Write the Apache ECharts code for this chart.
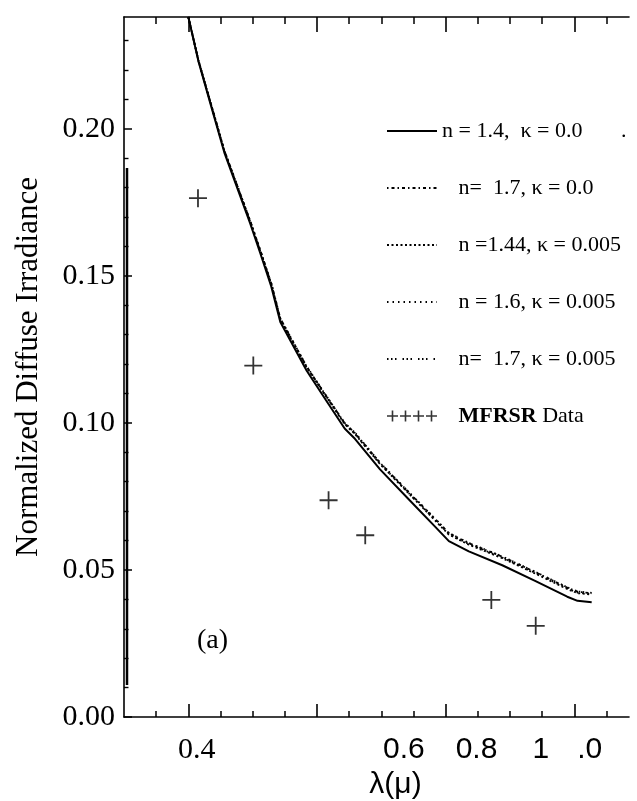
<!DOCTYPE html>
<html><head><meta charset="utf-8">
<script src="https://cdn.jsdelivr.net/npm/echarts@6/dist/echarts.min.js"></script>
<style>html,body{margin:0;padding:0;background:#fff}#c{width:637px;height:801px}</style>
</head><body><div id="c"></div>
<script>
// ---- data ----
const wavelength = [0.400, 0.416, 0.437, 0.456, 0.475, 0.496, 0.512, 0.529, 0.543, 0.584, 0.614, 0.643, 0.659, 0.698, 0.744, 0.785, 0.805, 0.836, 0.888, 0.939, 0.989, 1.005, 1.027];
const n14k0    = [0.2380, 0.2227, 0.2065, 0.1919, 0.1805, 0.1679, 0.1576, 0.1463, 0.1343, 0.1177, 0.1077, 0.0981, 0.0946, 0.0842, 0.0737, 0.0644, 0.0598, 0.0563, 0.0516, 0.0463, 0.0409, 0.0395, 0.0390];
const n17k0    = [0.2380, 0.2231, 0.2071, 0.1926, 0.1813, 0.1688, 0.1586, 0.1474, 0.1355, 0.1191, 0.1093, 0.0999, 0.0966, 0.0864, 0.0761, 0.0670, 0.0625, 0.0591, 0.0545, 0.0493, 0.0440, 0.0426, 0.0421];
const n144k005 = [0.2380, 0.2229, 0.2069, 0.1924, 0.1811, 0.1685, 0.1583, 0.1471, 0.1352, 0.1188, 0.1090, 0.0996, 0.0962, 0.0860, 0.0757, 0.0665, 0.0620, 0.0586, 0.0540, 0.0488, 0.0435, 0.0421, 0.0416];
const n16k005  = [0.2380, 0.2230, 0.2070, 0.1925, 0.1812, 0.1687, 0.1584, 0.1472, 0.1353, 0.1189, 0.1091, 0.0997, 0.0963, 0.0861, 0.0758, 0.0667, 0.0622, 0.0588, 0.0542, 0.0490, 0.0437, 0.0423, 0.0418];
const n17k005  = [0.2380, 0.2231, 0.2071, 0.1926, 0.1813, 0.1688, 0.1586, 0.1474, 0.1355, 0.1192, 0.1094, 0.1000, 0.0967, 0.0865, 0.0762, 0.0671, 0.0626, 0.0592, 0.0546, 0.0494, 0.0441, 0.0427, 0.0422];
const mfrsrWavelength = [0.415, 0.501, 0.618, 0.675, 0.871, 0.940];
const mfrsrIrradiance = [0.1764, 0.1195, 0.0737, 0.0618, 0.0398, 0.0310];

const seriesNames = ['n = 1.4,  \u03ba = 0.0       .', 'n=  1.7, \u03ba = 0.0', 'n =1.44, \u03ba = 0.005', 'n = 1.6, \u03ba = 0.005', 'n=  1.7, \u03ba = 0.005', 'MFRSR Data'];

const yTickValues = [0.00, 0.05, 0.10, 0.15, 0.20];
const yMinorTicks = [0.01, 0.02, 0.03, 0.04, 0.06, 0.07, 0.08, 0.09, 0.11, 0.12, 0.13, 0.14, 0.16, 0.17, 0.18, 0.19, 0.21, 0.22, 0.23];
const xMinorTicks = [0.35, 0.45, 0.5, 0.55, 0.65, 0.7, 0.75, 0.85, 0.9, 0.95, 1.05];
const xMajorTicks = [0.4, 0.6, 0.8, 1.0];
const xTickLabels = ['0.4', '0.6', '0.8', '1', '.0'];
const xTickLabelAt = [0.413, 0.735, 0.848, 0.948, 1.024];

const X_MIN = 0.3, X_MAX = 1.085, Y_MIN = 0, Y_MAX = 0.238;

function pairs(xs, ys) { return xs.map((x, i) => [x, ys[i]]); }

const plusPath = 'path://M9,0h2v9h9v2h-9v9h-2v-9h-9v-2h9z';
const fourPlus = 'path://M0,4.7h11v1.6h-11z M4.7,0h1.6v11h-1.6z M13,4.7h11v1.6h-11z M17.7,0h1.6v11h-1.6z M26,4.7h11v1.6h-11z M30.7,0h1.6v11h-1.6z M39,4.7h11v1.6h-11z M43.7,0h1.6v11h-1.6z';

const serif = 'Liberation Serif';
const sans = 'Liberation Sans';

function xAxisBase(pos) {
  return {
    type: 'value', min: X_MIN, max: X_MAX, position: pos,
    splitLine: { show: false }, axisLabel: { show: false },
    axisLine: { show: false, lineStyle: { color: '#000', width: 1.6 } },
    axisPointer: { show: false }
  };
}

const hiddenSymbol = { opacity: 0 };

const chart = echarts.init(document.getElementById('c'), null, { renderer: 'canvas' });
const option = {
  animation: false,
  backgroundColor: '#fff',
  grid: { left: 124, right: 8, top: 17, bottom: 84, outerBoundsMode: 'none' },
  xAxis: [
    Object.assign(xAxisBase('bottom'), {
      axisLine: { show: true, lineStyle: { color: '#000', width: 1.6 } },
      axisTick: { show: true, inside: true, length: 6, customValues: xMinorTicks, lineStyle: { color: '#000', width: 1.5 } },
      axisLabel: {
        show: true, customValues: xTickLabelAt, margin: 18, color: '#000',
        formatter: function (v) {
          let i = xTickLabelAt.findIndex(p => Math.abs(p - v) < 1e-6);
          if (i < 0) return '';
          return (i === 0 ? '{s|' : '{h|') + xTickLabels[i] + '}';
        },
        rich: { s: { fontFamily: serif, fontSize: 30, color: '#000' }, h: { fontFamily: sans, fontSize: 30, color: '#000' } }
      },
      name: '\u03bb(\u03bc)', nameLocation: 'middle', nameGap: 46,
      nameTextStyle: { fontFamily: sans, fontSize: 30, color: '#000', padding: [0, 0, 0, 38] }
    }),
    Object.assign(xAxisBase('bottom'), {
      axisTick: { show: true, inside: true, length: 13, customValues: xMajorTicks, lineStyle: { color: '#000', width: 1.6 } }
    }),
    Object.assign(xAxisBase('top'), {
      axisLine: { show: true, lineStyle: { color: '#000', width: 1.6 } },
      axisTick: { show: true, inside: true, length: 7, customValues: xMinorTicks, lineStyle: { color: '#000', width: 1.5 } }
    }),
    Object.assign(xAxisBase('top'), {
      axisTick: { show: true, inside: true, length: 15, customValues: xMajorTicks, lineStyle: { color: '#000', width: 1.6 } }
    })
  ],
  yAxis: [
    {
      type: 'value', min: Y_MIN, max: Y_MAX, position: 'left',
      splitLine: { show: false },
      axisLine: { show: true, lineStyle: { color: '#000', width: 1.6 } },
      axisTick: { show: true, inside: true, length: 8, customValues: yTickValues, lineStyle: { color: '#000', width: 1.5 } },
      axisLabel: { customValues: yTickValues, formatter: v => v.toFixed(2), margin: 9, fontFamily: serif, fontSize: 30, color: '#000' },
      name: 'Normalized Diffuse Irradiance', nameLocation: 'middle', nameGap: 80,
      nameTextStyle: { fontFamily: serif, fontSize: 31, color: '#000' },
      axisPointer: { show: false }
    },
    {
      type: 'value', min: Y_MIN, max: Y_MAX, position: 'left',
      splitLine: { show: false }, axisLabel: { show: false },
      axisLine: { show: false },
      axisTick: { show: true, inside: true, length: 4.5, customValues: yMinorTicks, lineStyle: { color: '#000', width: 1.4 } }
    }
  ],
  legend: {
    orient: 'vertical', left: 381, top: 114, itemWidth: 50, itemHeight: 11, itemGap: 33,
    selectedMode: false, symbolKeepAspect: true,
    formatter: function (name) {
      if (name === seriesNames[5]) return '   {b|MFRSR} Data';
      if (name === seriesNames[0]) return name;
      return '   ' + name;
    },
    textStyle: { fontFamily: serif, fontSize: 22, lineHeight: 24, color: '#000',
      rich: { b: { fontFamily: serif, fontWeight: 'bold', fontSize: 22, color: '#000' } } },
    data: [
      { name: seriesNames[0], itemStyle: hiddenSymbol },
      { name: seriesNames[1], itemStyle: hiddenSymbol },
      { name: seriesNames[2], itemStyle: hiddenSymbol },
      { name: seriesNames[3], itemStyle: hiddenSymbol },
      { name: seriesNames[4], itemStyle: hiddenSymbol },
      { name: seriesNames[5], icon: fourPlus }
    ]
  },
  graphic: [
    { type: 'text', left: 197, top: 627, style: { text: '(a)', font: '28px "Liberation Serif"', fill: '#000' } },
    { type: 'line', shape: { x1: 127, y1: 168, x2: 127, y2: 685 }, style: { stroke: '#000', lineWidth: 2.5 } }
  ],
  series: [
    { name: seriesNames[0], type: 'line', data: pairs(wavelength, n14k0), symbol: 'none', clip: true,
      lineStyle: { color: '#000', width: 2, type: 'solid' }, itemStyle: { color: '#000', opacity: 0 }, z: 5 },
    { name: seriesNames[1], type: 'line', data: pairs(wavelength, n17k0), symbol: 'none', clip: true,
      lineStyle: { color: '#000', width: 1.8, type: [1.5, 3, 3, 3] }, itemStyle: { color: '#000', opacity: 0 } },
    { name: seriesNames[2], type: 'line', data: pairs(wavelength, n144k005), symbol: 'none', clip: true,
      lineStyle: { color: '#000', width: 1.8, type: [2, 2.5] }, itemStyle: { color: '#000', opacity: 0 } },
    { name: seriesNames[3], type: 'line', data: pairs(wavelength, n16k005), symbol: 'none', clip: true,
      lineStyle: { color: '#000', width: 1.8, type: [1.5, 4] }, itemStyle: { color: '#000', opacity: 0 } },
    { name: seriesNames[4], type: 'line', data: pairs(wavelength, n17k005), symbol: 'none', clip: true,
      lineStyle: { color: '#000', width: 1.8, type: [1.5, 2.5, 1.5, 2.5, 1.5, 6] }, itemStyle: { color: '#000', opacity: 0 } },
    { name: seriesNames[5], type: 'scatter', data: pairs(mfrsrWavelength, mfrsrIrradiance),
      symbol: plusPath, symbolSize: 18, itemStyle: { color: '#000' } }
  ]
};
chart.setOption(option);
</script>
</body></html>
